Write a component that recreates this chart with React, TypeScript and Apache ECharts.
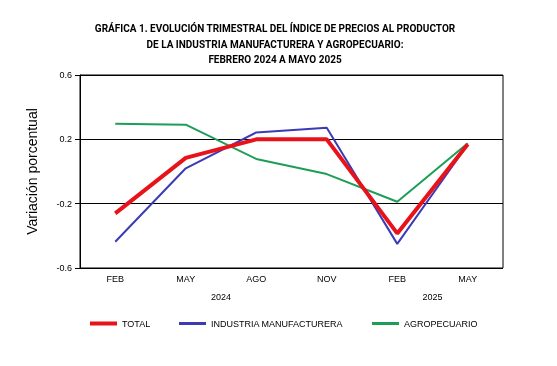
import React, { useEffect, useRef } from "react";
import * as echarts from "echarts";

const categories = ["FEB", "MAY", "AGO", "NOV", "FEB", "MAY"];
const yearLabels: Record<number, string> = { 2: "2024", 5: "2025" };
const total = [-0.26, 0.085, 0.2, 0.2, -0.385, 0.17];
const industria = [-0.437, 0.02, 0.243, 0.272, -0.45, 0.168];
const agro = [0.297, 0.291, 0.078, -0.016, -0.188, 0.175];
const yTicks = { min: -0.6, max: 0.6, interval: 0.4 };

const RED = "#e8121a";
const BLUE = "#3b3bb5";
const GREEN = "#1c9e56";
const FONT = "Liberation Sans, Arial, sans-serif";

export default function App() {
  const ref = useRef<HTMLDivElement>(null);
  useEffect(() => {
    if (!ref.current) return;
    const chart = echarts.init(ref.current, undefined, { renderer: "svg" });
    const legendBase = {
      top: 319,
      padding: 0,
      itemWidth: 27,
      icon: "rect",
      textStyle: { fontSize: 9, fontFamily: FONT, color: "#000" },
    };
    chart.setOption({
      animation: false,
      title: {
        text:
          "GRÁFICA 1. EVOLUCIÓN TRIMESTRAL DEL ÍNDICE DE PRECIOS AL PRODUCTOR\nDE LA INDUSTRIA MANUFACTURERA Y AGROPECUARIO:\nFEBRERO 2024 A MAYO 2025",
        left: 270,
        textAlign: "center",
        top: 16,
        textStyle: {
          fontSize: 10,
          fontWeight: "bold",
          fontFamily: "Roboto, sans-serif",
          color: "#000",
          lineHeight: 15.5,
        },
      },
      legend: [
        { ...legendBase, left: 90, itemHeight: 4, data: ["TOTAL"] },
        { ...legendBase, left: 179, itemHeight: 3, data: ["INDUSTRIA MANUFACTURERA"] },
        { ...legendBase, left: 372, itemHeight: 3, data: ["AGROPECUARIO"] },
      ],
      grid: {
        left: 80,
        right: 54,
        top: 75,
        bottom: 98,
        show: true,
        borderColor: "#000",
        borderWidth: 1,
      },
      xAxis: [
        {
          type: "category",
          data: categories,
          boundaryGap: true,
          axisLine: { show: false, onZero: false },
          axisTick: { show: false },
          axisLabel: { fontSize: 9, fontFamily: FONT, color: "#000", margin: 6 },
        },
        {
          type: "value",
          position: "bottom",
          offset: 16,
          min: 0,
          max: 6,
          interval: 1,
          axisLine: { show: false, onZero: false },
          axisTick: { show: false },
          splitLine: { show: false },
          axisLabel: {
            fontSize: 9,
            fontFamily: FONT,
            color: "#000",
            margin: 8,
            formatter: (v: number) => yearLabels[v] || "",
          },
        },
      ],
      yAxis: {
        type: "value",
        min: yTicks.min,
        max: yTicks.max,
        interval: yTicks.interval,
        name: "Variación porcentual",
        nameLocation: "middle",
        nameGap: 41,
        nameTextStyle: { fontSize: 14, fontFamily: FONT, color: "#000" },
        axisLine: { show: true, lineStyle: { color: "#000" } },
        axisTick: { show: true, length: 5, lineStyle: { color: "#000" } },
        splitLine: { show: true, lineStyle: { color: "#000", width: 1 } },
        axisLabel: {
          fontSize: 9,
          fontFamily: FONT,
          color: "#000",
          margin: 8,
          formatter: (v: number) => (Math.round(v * 10) / 10).toFixed(1),
        },
      },
      series: [
        {
          name: "TOTAL",
          type: "line",
          data: total,
          showSymbol: false,
          symbol: "none",
          lineStyle: { color: RED, width: 4 },
          itemStyle: { color: RED },
          z: 3,
        },
        {
          name: "INDUSTRIA MANUFACTURERA",
          type: "line",
          data: industria,
          showSymbol: false,
          symbol: "none",
          lineStyle: { color: BLUE, width: 2 },
          itemStyle: { color: BLUE },
          z: 2,
        },
        {
          name: "AGROPECUARIO",
          type: "line",
          data: agro,
          showSymbol: false,
          symbol: "none",
          lineStyle: { color: GREEN, width: 2 },
          itemStyle: { color: GREEN },
          z: 1,
        },
      ],
    });
    return () => chart.dispose();
  }, []);
  return (
    <div
      ref={ref}
      style={{ position: "fixed", left: 0, top: 0, width: 557, height: 366 }}
    />
  );
}
